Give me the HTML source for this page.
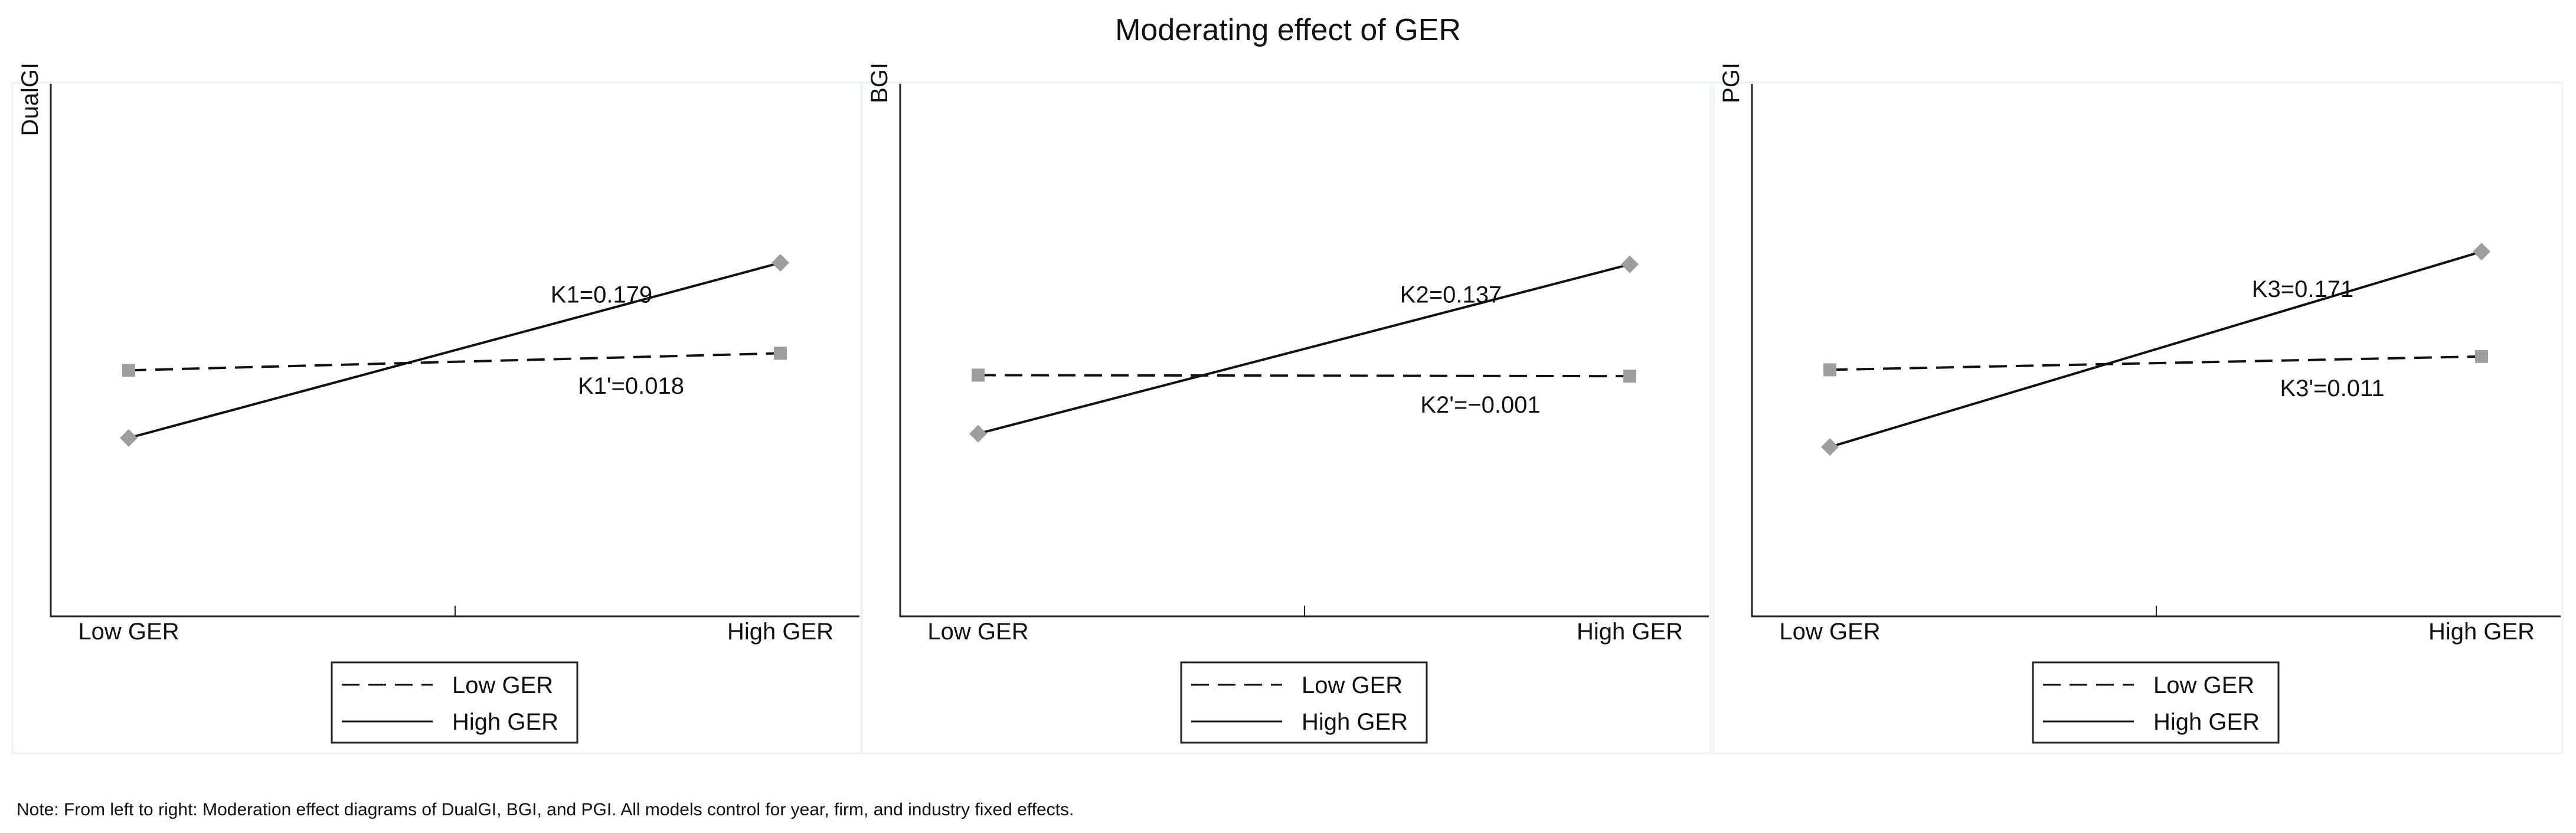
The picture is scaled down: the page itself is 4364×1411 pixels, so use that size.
<!DOCTYPE html>
<html><head><meta charset="utf-8"><style>
html,body{margin:0;padding:0;background:#fff}
svg{display:block}
text{font-family:"Liberation Sans",Arial,sans-serif;fill:#111}
</style></head><body>
<svg id="chart" width="4364" height="1411" viewBox="0 0 4364 1411" xmlns="http://www.w3.org/2000/svg">
<text x="2182" y="68" text-anchor="middle" font-size="52">Moderating effect of GER</text>
<text x="28" y="1381" font-size="30">Note:  From left to right: Moderation effect diagrams of DualGI, BGI, and PGI. All models control for year, firm, and industry fixed effects.</text>
<g id="panels"></g>
</svg>
<script>
const panelNames = ["DualGI", "BGI", "PGI"];
const categories = ["Low GER", "High GER"];
const lowSeries = [[4.62, 4.94], [4.53, 4.51], [4.63, 4.88]];
const highSeries = [[3.35, 6.64], [3.43, 6.61], [3.18, 6.85]];
const highLabels = ["K1=0.179", "K2=0.137", "K3=0.171"];
const lowLabels = ["K1'=0.018", "K2'=\u22120.001", "K3'=0.011"];
const legendLabels = ["Low GER", "High GER"];

const NS = "http://www.w3.org/2000/svg";
const root = document.getElementById("panels");
const offsets = [21, 1460, 2903];
const yTop = 142, yBot = 1044;
function yScale(v){ return yBot - (v / 10) * (yBot - yTop); }
function xScale(off, i){ return off + 197 + i * 1104; }
function mk(tag, attrs, parent){
  const e = document.createElementNS(NS, tag);
  for (const k in attrs) e.setAttribute(k, attrs[k]);
  parent.appendChild(e);
  return e;
}
function txt(parent, s, attrs){ const t = mk("text", attrs, parent); t.textContent = s; return t; }

panelNames.forEach((name, p) => {
  const off = offsets[p];
  const g = mk("g", {}, root);
  
  
  const fr = mk("rect", {x: off, y: 140, width: 1438, height: 1136, fill: "none", stroke: "#e8f3f3", "stroke-width": 3}, g);
  
  
  const ya = mk("line", {x1: off + 65, y1: yTop, x2: off + 65, y2: yBot + 1, stroke: "#222", "stroke-width": 3}, g);
  
  
  const xa = mk("line", {x1: off + 64, y1: yBot, x2: off + 1435, y2: yBot, stroke: "#222", "stroke-width": 3}, g);
  
  
  const tk = mk("line", {x1: off + 750, y1: 1026, x2: off + 750, y2: yBot, stroke: "#222", "stroke-width": 2}, g);
  
  
  const yt = txt(g, name, {x: 0, y: 0, "font-size": 40, transform: "translate(" + (off + 43) + ",106) rotate(-90)", "text-anchor": "end"});
  
  
  categories.forEach((c, i) => {
    const t = txt(g, c, {x: xScale(off, i), y: 1083, "font-size": 40, "text-anchor": "middle"});
    
    
  });
  const lv = lowSeries[p];
  const l1 = mk("line", {x1: xScale(off,0), y1: yScale(lv[0]), x2: xScale(off,1), y2: yScale(lv[1]), stroke: "#111", "stroke-width": 4, "stroke-dasharray": "30 15"}, g);
  
  
  const hv = highSeries[p];
  const l2 = mk("line", {x1: xScale(off,0), y1: yScale(hv[0]), x2: xScale(off,1), y2: yScale(hv[1]), stroke: "#111", "stroke-width": 4}, g);
  
  
  lv.forEach((v, i) => {
    const x = xScale(off, i), y = yScale(v);
    const s = mk("rect", {x: x - 11, y: y - 11, width: 22, height: 22, fill: "#9e9e9e"}, g);
    
    
  });
  hv.forEach((v, i) => {
    const x = xScale(off, i), y = yScale(v);
    const d = mk("polygon", {points: (x-15)+","+y+" "+x+","+(y-15)+" "+(x+15)+","+y+" "+x+","+(y+15), fill: "#9e9e9e"}, g);
    
    
  });
  const hmx = off + 998, lmx = off + 1048;
  const hy = yScale(hv[0]) + (yScale(hv[1]) - yScale(hv[0])) * ((hmx - xScale(off,0)) / 1104);
  const ly = yScale(lv[0]) + (yScale(lv[1]) - yScale(lv[0])) * ((lmx - xScale(off,0)) / 1104);
  const k1 = txt(g, highLabels[p], {x: hmx, y: hy - 14, "font-size": 40, "text-anchor": "middle"});
  
  
  const k2 = txt(g, lowLabels[p], {x: lmx, y: ly + 62, "font-size": 40, "text-anchor": "middle"});
  
  
  const lg = mk("g", {}, g);
  
  
  mk("rect", {x: off + 541, y: 1122, width: 416, height: 136, fill: "#fff", stroke: "#222", "stroke-width": 3}, lg);
  legendLabels.forEach((lab, i) => {
    const y = 1160 + i * 62;
    const ln = mk("line", {x1: off + 558, y1: y, x2: off + 712, y2: y, stroke: "#111", "stroke-width": 3}, lg);
    if (i === 0) ln.setAttribute("stroke-dasharray", "30 15");
    
    
    const t = txt(lg, lab, {x: off + 745, y: y + 14, "font-size": 40});
    
    
  });
});
</script>
</body></html>
